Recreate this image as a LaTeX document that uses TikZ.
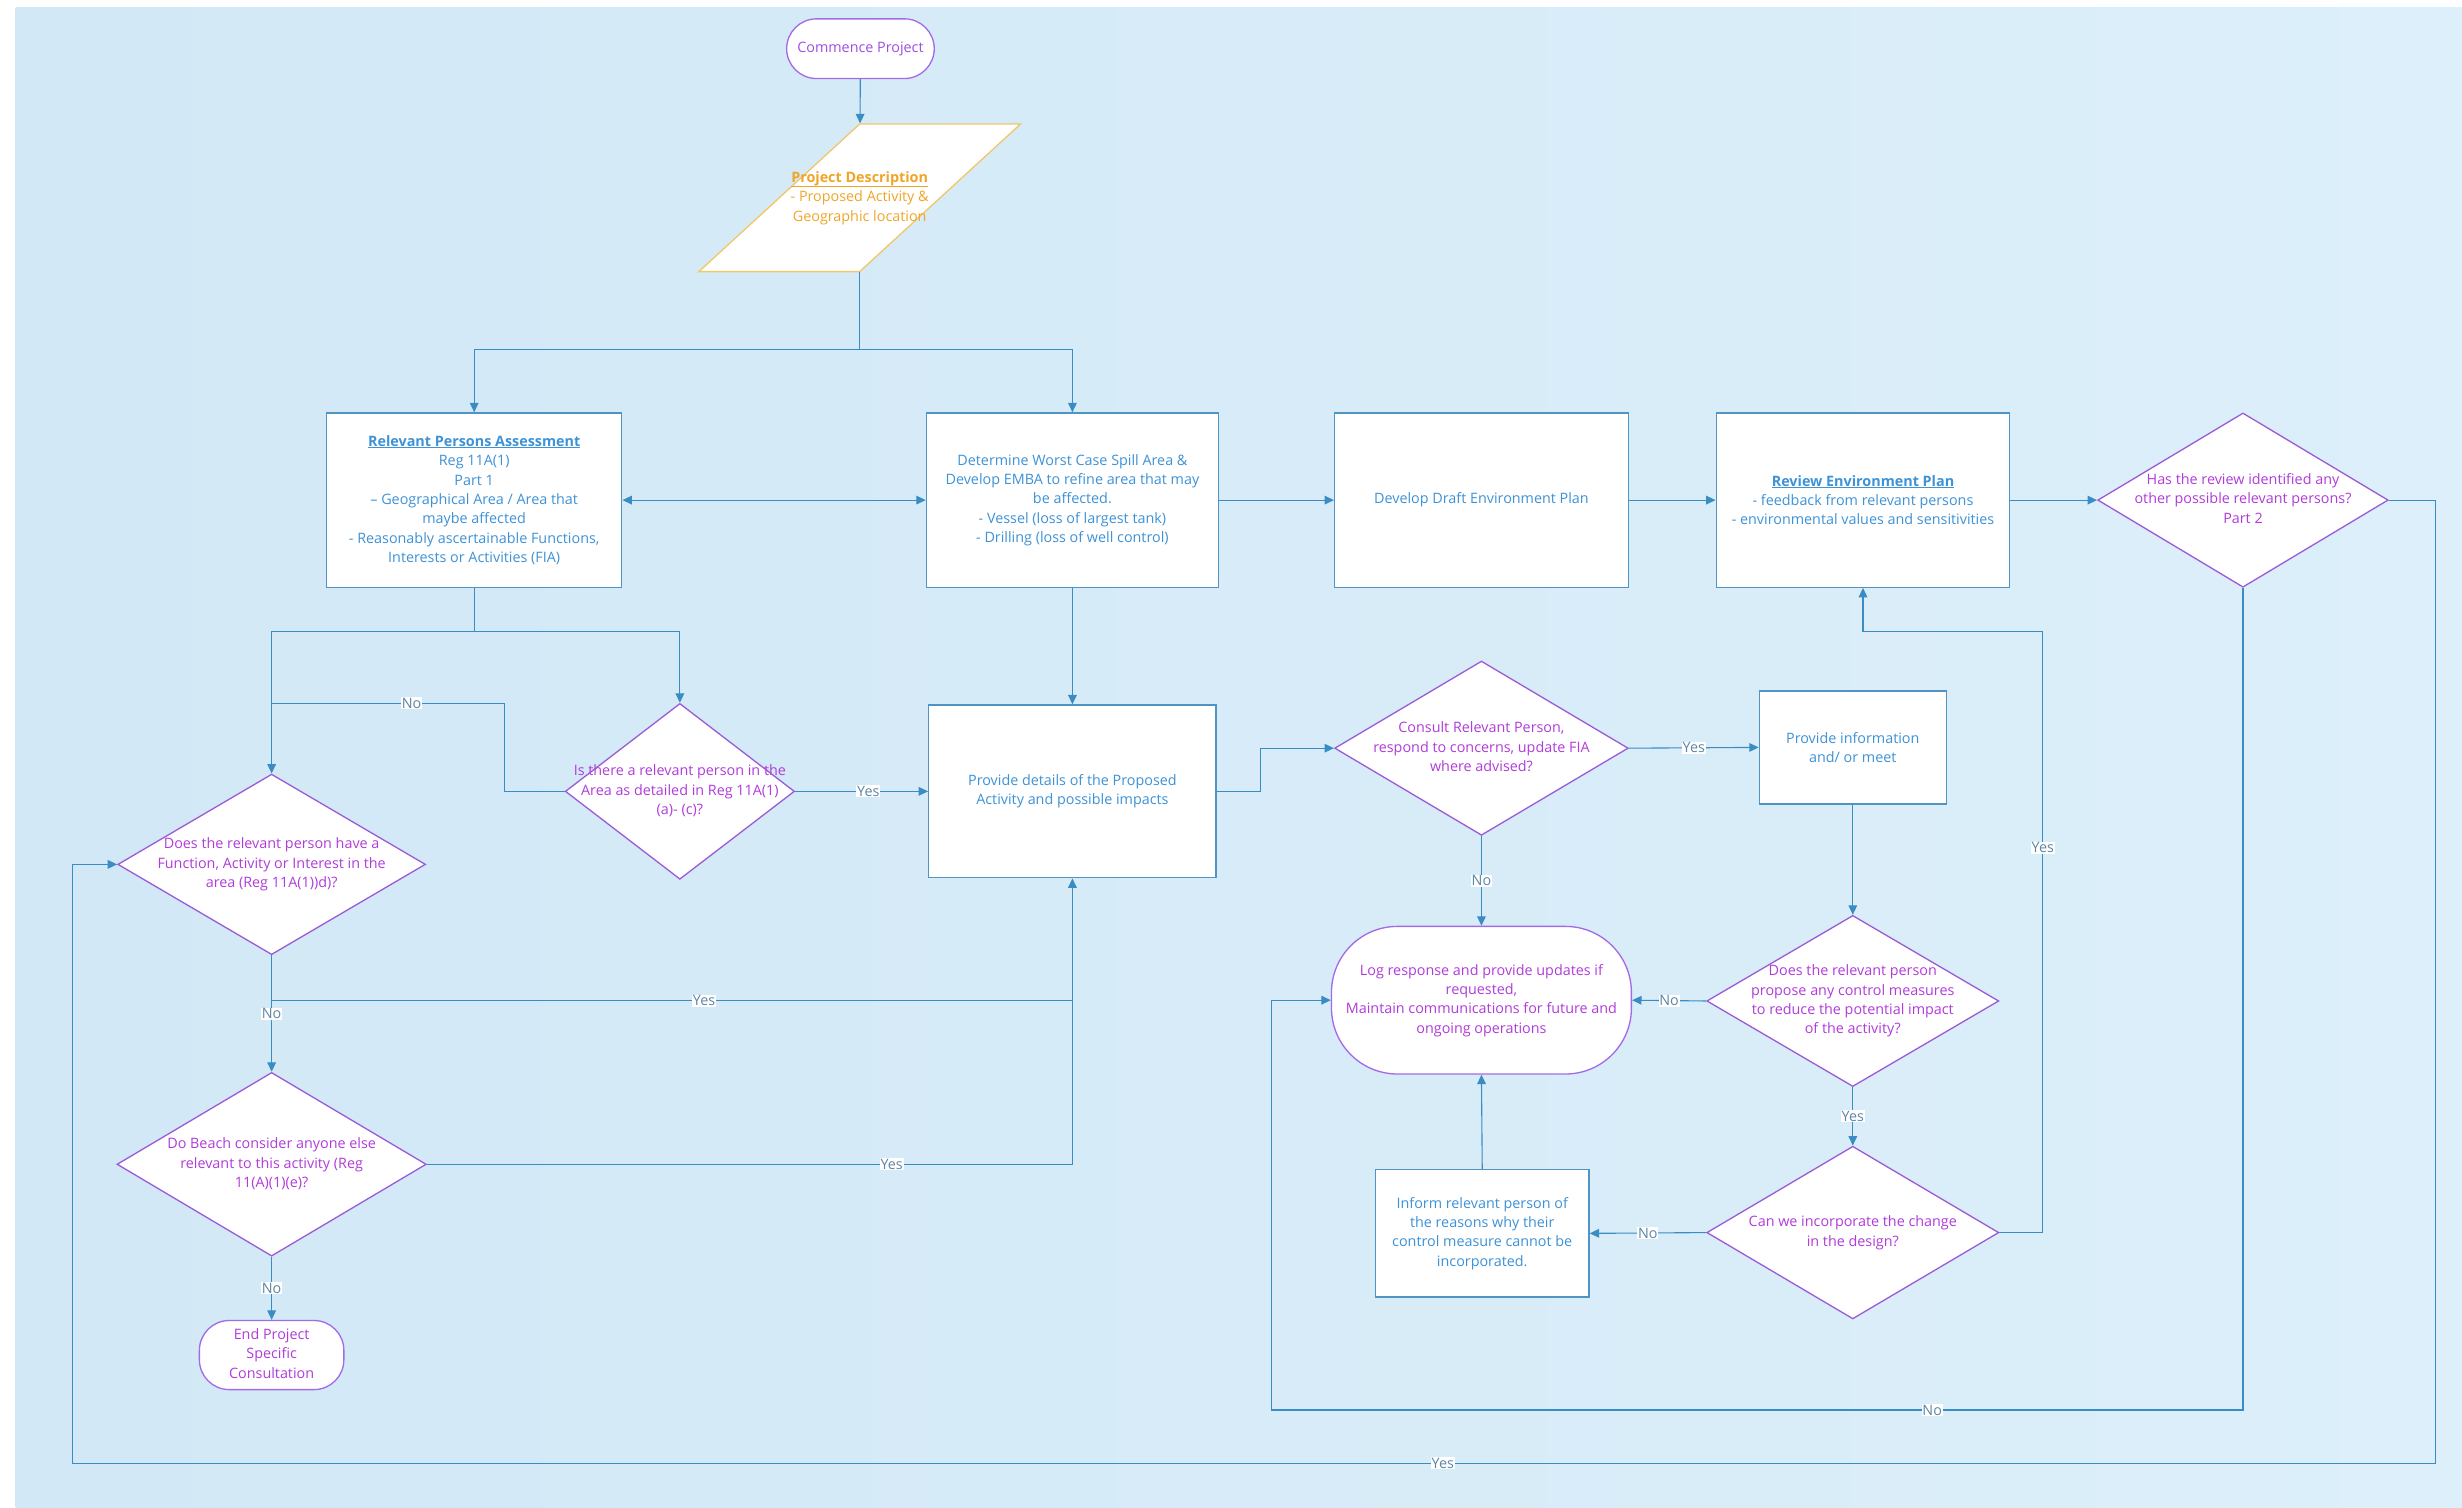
\documentclass[tikz,border=0pt]{standalone}
\usepackage{fontspec}
\setmainfont{Open Sans}
\usetikzlibrary{shapes.geometric,shapes.misc,arrows.meta}

\definecolor{bgA}{HTML}{D2E8F6}
\definecolor{bgB}{HTML}{DCEFFA}
\definecolor{lineblue}{HTML}{3A8CC4}
\definecolor{boxline}{HTML}{5094C4}
\definecolor{boxtext}{HTML}{3E92D6}
\definecolor{decline}{HTML}{9C5CD6}
\definecolor{dectext}{HTML}{B13CD9}
\definecolor{termline}{HTML}{A36BE6}
\definecolor{termtext}{HTML}{9E4FE0}
\definecolor{pdline}{HTML}{F2C66B}
\definecolor{pdtext}{HTML}{F0A528}
\definecolor{labtext}{HTML}{5F86A4}

\newcommand{\qtext}[1]{\makebox[0pt]{\begin{tabular}{@{}c@{}}#1\end{tabular}}}

\begin{document}
\begin{tikzpicture}[
    font=\fontsize{26}{35}\selectfont,
    conn/.style={draw=lineblue, line width=2pt},
    arr/.style={conn, -{Triangle[length=0.6cm, width=0.55cm]}},
    proc/.style={rectangle, draw=boxline, line width=2.4pt, fill=white, text=boxtext, align=center, inner sep=4pt},
    decision/.style={diamond, draw=decline, line width=2.4pt, fill=white, text=dectext, align=center, inner sep=0pt},
    term/.style={rounded rectangle, draw=termline, line width=2.4pt, fill=white, text=dectext, align=center, inner sep=0pt},
    roundterm/.style={rectangle, draw=termline, line width=2.4pt, fill=white, text=dectext, align=center, inner sep=0pt},
    io/.style={trapezium, trapezium left angle=63, trapezium right angle=117, trapezium stretches=true, draw=pdline, line width=2.4pt, fill=white, text=pdtext, align=center, inner sep=0pt},
    yesno/.style={fill=white, text=labtext, inner sep=1.5pt}
  ]
    \useasboundingbox (0,0) rectangle (156.8,-96);
    \fill[white] (0,0) rectangle (156.8,-96);
    \shade[left color=bgA, right color=bgB] (1.0,-0.5) rectangle (156.8,-96);

    \node[term, text=termtext, minimum width=9.4cm, minimum height=3.8cm](start) at (54.8, -3.1){\qtext{Commence Project}};
    \node[io, minimum width=20.5cm, minimum height=9.4cm](pd) at (54.75, -12.6){\qtext{\underline{\textbf{Project Description}}\\- Proposed Activity \&\\Geographic location}};

    \node[proc, minimum width=18.8cm, minimum height=11.1cm](rpa) at (30.20, -31.85){\underline{\textbf{Relevant Persons Assessment}}\\Reg 11A(1)\\Part 1\\– Geographical Area / Area that\\maybe affected\\- Reasonably ascertainable Functions,\\Interests or Activities (FIA)};
    \node[proc, minimum width=18.6cm, minimum height=11.1cm](wcs) at (68.30, -31.85){Determine Worst Case Spill Area \&\\Develop EMBA to refine area that may\\be affected.\\- Vessel (loss of largest tank)\\- Drilling (loss of well control)};
    \node[proc, minimum width=18.7cm, minimum height=11.1cm](draft) at (94.35, -31.85){Develop Draft Environment Plan};
    \node[proc, minimum width=18.7cm, minimum height=11.1cm](review) at (118.65, -31.85){\underline{\textbf{Review Environment Plan}}\\- feedback from relevant persons\\- environmental values and sensitivities};
    \node[decision, minimum width=18.5cm, minimum height=11.1cm](hasrev) at (142.85, -31.85){\qtext{Has the review identified any\\other possible relevant persons?\\Part 2}};

    \node[decision, minimum width=14.6cm, minimum height=11.2cm](isthere) at (43.30, -50.40){\qtext{Is there a relevant person in the\\Area as detailed in Reg 11A(1)\\(a)- (c)?}};
    \node[decision, minimum width=19.6cm, minimum height=11.5cm](doesfia) at (17.30, -55.05){\qtext{Does the relevant person have a\\Function, Activity or Interest in the\\area (Reg 11A(1))d)?}};
    \node[decision, minimum width=19.7cm, minimum height=11.7cm](dobeach) at (17.30, -74.15){\qtext{Do Beach consider anyone else\\relevant to this activity (Reg\\11(A)(1)(e)?}};
    \node[roundterm, rounded corners=1.9cm, minimum width=9.2cm, minimum height=4.4cm](endproj) at (17.30, -86.30){\qtext{End Project\\Specific\\Consultation}};

    \node[proc, minimum width=18.3cm, minimum height=11.0cm](details) at (68.30, -50.40){Provide details of the Proposed\\Activity and possible impacts};
    \node[decision, minimum width=18.7cm, minimum height=11.1cm](consult) at (94.35, -47.65){\qtext{Consult Relevant Person,\\respond to concerns, update FIA\\where advised?}};
    \node[proc, minimum width=11.9cm, minimum height=7.2cm](provinfo) at (118.00, -47.60){Provide information\\and/ or meet};
    \node[roundterm, rounded corners=4.2cm, minimum width=19.1cm, minimum height=9.4cm](logresp) at (94.35, -63.70){\qtext{Log response and provide updates if\\requested,\\Maintain communications for future and\\ongoing operations}};
    \node[decision, minimum width=18.6cm, minimum height=10.9cm](propose) at (118.00, -63.75){\qtext{Does the relevant person\\propose any control measures\\to reduce the potential impact\\of the activity?}};
    \node[decision, minimum width=18.6cm, minimum height=11.0cm](canwe) at (118.00, -78.50){\qtext{Can we incorporate the change\\in the design?}};
    \node[proc, minimum width=13.6cm, minimum height=8.1cm](inform) at (94.40, -78.55){Inform relevant person of\\the reasons why their\\control measure cannot be\\incorporated.};

    \coordinate (yesR) at (155.10, -93.20);
    \coordinate (yesL) at (4.60, -93.20);
    \coordinate (noL) at (81.00, -89.80);
    \coordinate (nojoin) at (17.30, -44.80);
    \coordinate (yesjoin) at (68.30, -63.70);
    \coordinate (yesup) at (130.10, -40.20);

    \draw[arr] (start) -- (pd);
    \draw[arr] (pd.south) -- ++(0,-4.9) -| (rpa.north);
    \draw[arr] (pd.south) -- ++(0,-4.9) -| (wcs.north);
    \draw[conn, {Triangle[length=0.6cm, width=0.55cm]}-{Triangle[length=0.6cm, width=0.55cm]}] (rpa) -- (wcs);
    \draw[arr] (wcs) -- (draft);
    \draw[arr] (draft) -- (review);
    \draw[arr] (review) -- (hasrev);

    \draw[arr] (hasrev.east) -| (yesR) -- node[yesno, pos=0.42]{Yes} (yesL) |- (doesfia.west);
    \draw[arr] (hasrev.south) |- node[yesno, pos=0.66]{No} (noL) |- (logresp.west);

    \draw[arr] (rpa.south) -- ++(0,-2.8) -| (doesfia.north);
    \draw[arr] (rpa.south) -- ++(0,-2.8) -| (isthere.north);
    \draw[conn] (isthere.west) -- ++(-3.8,0) |- node[yesno, pos=0.70]{No} (nojoin);
    \draw[arr] (isthere.east) -- node[yesno, pos=0.55]{Yes} (details.west);

    \draw[arr] (doesfia.south) -- ++(0,-2.9) -| node[yesno, pos=0.27]{Yes} (details.south);
    \draw[arr] (doesfia.south) -- node[yesno]{No} (dobeach.north);
    \draw[conn] (dobeach.east) -| node[yesno, pos=0.36]{Yes} (yesjoin);
    \draw[arr] (dobeach.south) -- node[yesno]{No} (endproj.north);

    \draw[arr] (wcs.south) -- (details.north);
    \draw[arr] (details.east) -- ++(2.8,0) |- (consult.west);
    \draw[arr] (consult.east) -- node[yesno]{Yes} (provinfo.west);
    \draw[arr] (consult.south) -- node[yesno]{No} (logresp.north);
    \draw[arr] (provinfo.south) -- (propose.north);
    \draw[arr] (propose.west) -- node[yesno]{No} (logresp.east);
    \draw[arr] (propose.south) -- node[yesno]{Yes} (canwe.north);
    \draw[arr] (canwe.west) -- node[yesno]{No} (inform.east);
    \draw[arr] (inform.north) -- (logresp.south);
    \draw[arr] (canwe.east) -| node[yesno, pos=0.82]{Yes} (yesup) -| (review.south);
\end{tikzpicture}
\end{document}
